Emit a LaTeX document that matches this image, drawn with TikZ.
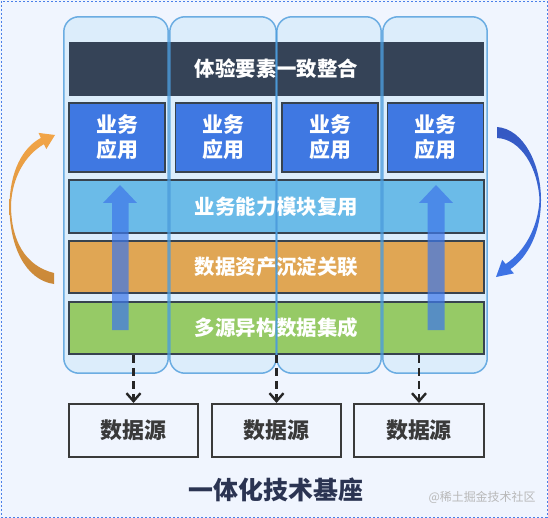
\documentclass[tikz,border=0pt]{standalone}
\usepackage{fontspec}
\setmainfont{Noto Sans CJK SC}
\usetikzlibrary{arrows.meta, positioning}
\definecolor{pagebg}{HTML}{F0F5FE}
\definecolor{pageedge}{HTML}{4A7FE8}
\definecolor{lanefill}{HTML}{DCEDFB}
\definecolor{laneedge}{HTML}{4C9CDC}
\definecolor{topbar}{HTML}{354357}
\definecolor{appblue}{HTML}{3F78E2}
\definecolor{capblue}{HTML}{6BBBE8}
\definecolor{assetorange}{HTML}{E0A654}
\definecolor{sourcegreen}{HTML}{96CA66}
\definecolor{barline}{HTML}{37434F}
\definecolor{srcline}{HTML}{3A3A3A}
\definecolor{titlenavy}{HTML}{2B3452}
\definecolor{liftblue}{HTML}{3F78E8}
\definecolor{loopblue}{HTML}{3E74E6}
\definecolor{loopdark}{HTML}{3558C2}
\definecolor{looporange}{HTML}{F2A548}
\definecolor{loopbrown}{HTML}{C98838}

\begin{document}
\begin{tikzpicture}[x=1bp,y=-1bp,
		lane/.style={rounded corners=15bp,fill=lanefill,minimum width=104bp,minimum height=356bp,inner sep=0pt},
		bar/.style={draw=barline,line width=1.6bp,minimum width=415bp,minimum height=52bp,inner sep=0pt,text=white,font=\bfseries\fontsize{20.5}{22}\selectfont},
		app/.style={draw=barline,line width=1.6bp,fill=appblue,minimum width=96bp,minimum height=69bp,inner sep=0pt,text=white,align=center,font=\bfseries\fontsize{21}{25}\selectfont},
		srcbox/.style={draw=srcline,line width=2bp,minimum width=129bp,minimum height=53bp,inner sep=0pt,text=srcline,font=\bfseries\fontsize{22}{24}\selectfont},
		feed/.style={draw=black!85,line width=2.8bp,dash pattern=on 8bp off 5bp,-{Straight Barb[length=8bp,width=14bp,line width=2.4bp]}},
		lift/.style={fill=liftblue,fill opacity=0.72}]
	% page
	\fill[pagebg] (0,0) rectangle (548,518);
	\draw[pageedge,line width=0.8bp,dash pattern=on 2bp off 2bp] (1,1) rectangle (547,517);
	\useasboundingbox (0,0) rectangle (548,518);
	% lanes
	\node[lane] (lane1) at (116,195) {};
	\node[lane,minimum width=106bp] (lane2) at (223,195) {};
	\node[lane] (lane3) at (329,195) {};
	\node[lane] (lane4) at (435,195) {};
	% layers
	\node[fill=topbar,minimum width=415bp,minimum height=54bp,inner sep=0pt,text=white,font=\bfseries\fontsize{20.5}{22}\selectfont] (ux) at (276.5,69) {体验要素一致整合};
	\node[app] (app1) at (117,137.5) {业务\\应用};
	\node[app] (app2) at (223.5,137.5) {业务\\应用};
	\node[app] (app3) at (330,137.5) {业务\\应用};
	\node[app] (app4) at (435.5,137.5) {业务\\应用};
	\node[bar,fill=capblue,minimum height=53bp] (reuse) at (276.5,206.5) {业务能力模块复用};
	\node[bar,fill=assetorange] (asset) at (276.5,267) {数据资产沉淀关联};
	\node[bar,fill=sourcegreen] (integ) at (276.5,328) {多源异构数据集成};
	% lifting arrows
	\fill[lift] (112,330) -- (112,203) -- (103,203) -- (120,185) -- (137,203) -- (128.5,203) -- (128.5,330) -- cycle;
	\fill[lift] (427.5,330) -- (427.5,203) -- (419,203) -- (436,185) -- (453,203) -- (444.5,203) -- (444.5,330) -- cycle;
	% lane edges
	\foreach \l in {lane1,lane2,lane3,lane4}
		\draw[laneedge,line width=1.5bp,draw opacity=0.8,rounded corners=15bp] (\l.north west) rectangle (\l.south east);
	% sources
	\node[srcbox] (src1) at (133.5,430.5) {数据源};
	\node[srcbox] (src2) at (276.5,430.5) {数据源};
	\node[srcbox,minimum width=130bp] (src3) at (419,430.5) {数据源};
	\draw[feed] (integ.south -| src1.north) -- (src1.north);
	\draw[feed] (integ.south -| src2.north) -- (src2.north);
	\draw[feed] (integ.south -| src3.north) -- (src3.north);
	% loops (tapered)
	\shade[top color=looporange,bottom color=loopbrown]
		(54,284) .. controls (25,280) and (9,245) .. (9.5,205) .. controls (10,172) and (22,148) .. (40.9,137.9)
		-- (38.5,132.9) -- (55,135) -- (46.3,149.1) -- (43.9,144.2)
		.. controls (25,155) and (12,178) .. (11,205) .. controls (11,240) and (25,266) .. (54,273) -- cycle;
	\shade[top color=loopdark,bottom color=loopblue]
		(497,127) .. controls (524,129) and (541,165) .. (541,200) .. controls (541,232) and (528,257) .. (510.3,269.2)
		-- (513.9,273.4) -- (496,277) -- (502.2,259.9) -- (505.7,264)
		.. controls (524,252) and (538,228) .. (539.5,200) .. controls (538,168) and (521,139) .. (497,138) -- cycle;
	% captions
	\node[text=titlenavy,font=\bfseries\fontsize{25}{27}\selectfont] (base) at (276,490) {一体化技术基座};
	\node[text=black!28,font=\fontsize{12}{14}\selectfont] (mark) at (482,497) {@稀土掘金技术社区};
\end{tikzpicture}
\end{document}
